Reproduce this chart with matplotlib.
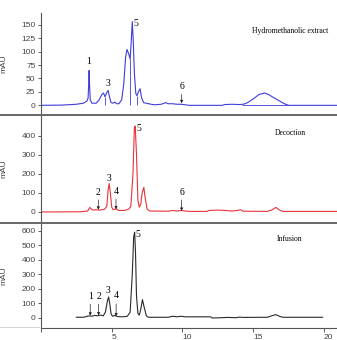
import numpy as np
import matplotlib
matplotlib.use("Agg")
import matplotlib.pyplot as plt
from matplotlib.lines import Line2D

# retention time (min) / absorbance (mAU)
hm_t = [0, 1.5, 2.5, 3.0, 3.25, 3.33, 3.37, 3.40, 3.43, 3.48, 3.6, 3.9, 4.1, 4.3, 4.42, 4.52,
        4.62, 4.74, 4.85, 4.95, 5.1, 5.2, 5.35, 5.5, 5.7, 5.85, 5.98, 6.08, 6.2, 6.3, 6.38,
        6.45, 6.52, 6.6, 6.7, 6.78, 6.9, 7.0, 7.1, 7.25, 7.6, 8.0, 8.5, 8.8, 9.0, 9.3, 9.6,
        9.9, 10.2, 10.5, 12.8, 13.0, 13.5, 14.0, 14.3, 14.6, 15.0, 15.4, 15.8, 16.1, 16.4,
        16.8, 17.2, 17.5, 20.9]
hm_y = [0, 0.5, 2, 4, 8, 14, 40, 65, 40, 10, 4, 4, 10, 20, 23, 16,
        22, 28, 15, 5, 4, 6, 3, 3, 10, 40, 90, 104, 96, 86, 120,
        156, 120, 60, 22, 18, 26, 31, 15, 5, 3, 1, 2, 5, 3, 3, 2,
        2, 1, 0, 0, 1.5, 2, 1.5, 2, 5, 12, 20, 23, 20, 15,
        9, 3, 0, 0]
hm_drop_t = [4.55, 6.30, 6.78]
hm_drop_y = [16, 86, 18]

dec_t = [0, 2.8, 3.3, 3.45, 3.55, 3.7, 3.9, 4.1, 4.3, 4.5, 4.65, 4.75, 4.82, 4.9, 5.0, 5.1,
         5.3, 5.5, 5.8, 6.0, 6.2, 6.35, 6.5, 6.6, 6.66, 6.75, 6.85, 6.95, 7.05, 7.15, 7.27,
         7.35, 7.5, 7.7, 9.0, 9.3, 9.6, 9.9, 10.2, 10.5, 11.7, 11.9, 12.5, 13.0, 13.5, 13.9,
         14.1, 14.3, 16.0, 16.3, 16.6, 16.9, 17.1, 20.9]
dec_y = [0, 1, 5, 24, 15, 10, 12, 10, 12, 15, 30, 120, 150, 100, 25, 12,
         16, 8, 8, 10, 15, 30, 200, 440, 452, 300, 60, 25, 40, 100, 130,
         80, 15, 5, 4, 8, 5, 8, 5, 3, 3, 8, 10, 8, 5, 8,
         12, 4, 3, 10, 24, 8, 3, 3]

inf_t = [2.5, 3.0, 3.2, 3.4, 3.6, 3.8, 4.0, 4.2, 4.4, 4.55, 4.7, 4.78, 4.86, 4.95, 5.05,
         5.2, 5.4, 5.8, 6.1, 6.3, 6.45, 6.55, 6.62, 6.68, 6.75, 6.85, 6.95, 7.05, 7.17, 7.3,
         7.45, 7.6, 9.0, 9.3, 9.6, 9.9, 10.2, 12.0, 12.1, 12.8, 13.2, 13.8, 14.0, 14.3, 16.0,
         16.3, 16.6, 16.9, 17.1, 19.9]
inf_y = [5, 5, 10, 15, 12, 18, 15, 20, 15, 40, 120, 145, 100, 30, 12,
         18, 10, 8, 12, 40, 300, 560, 592, 450, 150, 30, 20, 60, 127, 70,
         15, 5, 5, 12, 8, 12, 8, 8, 0, 2, 4, 2, 6, 4, 5,
         15, 23, 10, 5, 5]

# peak labels: (text, time, text level, arrow tip level or None)
hm_labels = [("1", 3.35, 81, None), ("3", 4.75, 41, None), ("6", 9.94, 35, 4)]
dec_labels = [("2", 4.05, 105, 12), ("3", 4.83, 178, None), ("4", 5.3, 110, 14), ("6", 9.94, 105, 6)]
inf_labels = [("1", 3.48, 150, 16), ("2", 4.07, 150, 18), ("3", 4.73, 187, None), ("4", 5.31, 152, 12)]

plt.rcParams['font.family'] = ['Liberation Sans', 'DejaVu Sans']
serif = 'Liberation Serif'

fig = plt.figure(figsize=(3.37, 3.40), dpi=100)
W, H = 337.0, 340.0
x0 = 41 / W
w = (337 - 41) / W


def make_ax(top, bottom):
    return fig.add_axes([x0, 1 - bottom / H, w, (bottom - top) / H])


ax1 = make_ax(13, 115)
ax2 = make_ax(115, 223)
ax3 = make_ax(223, 328)

for ax in (ax1, ax2, ax3):
    ax.set_xlim(0, 20.92)
    ax.patch.set_alpha(0)
    for s in ("top", "right"):
        ax.spines[s].set_visible(False)
    ax.spines["left"].set_color("#555555")
    ax.spines["left"].set_linewidth(0.8)
    ax.tick_params(axis="y", labelsize=6, length=2.5, width=0.6, pad=1.5,
                   colors="#444444")
    ax.set_ylabel("mAU", fontsize=6, color="#444444", labelpad=6)

for ax in (ax1, ax2):
    ax.spines["bottom"].set_visible(False)
    ax.set_xticks([])

ax1.set_ylim(-18, 172)
ax1.set_yticks([0, 25, 50, 75, 100, 125, 150])
ax2.set_ylim(-58, 510)
ax2.set_yticks([0, 100, 200, 300, 400])
ax3.set_ylim(-69, 655)
ax3.set_yticks([0, 100, 200, 300, 400, 500, 600])

ax3.spines["bottom"].set_color("#555555")
ax3.spines["bottom"].set_linewidth(0.8)
ax3.set_xticks([0, 5, 10, 15, 20])
ax3.set_xticklabels(["", "5", "10", "15", "20"])
ax3.tick_params(axis="x", labelsize=6, length=3, width=0.6, pad=1, colors="#444444")
for lab in ax3.get_xticklabels():
    lab.set_horizontalalignment("left")

for ax in (ax1, ax2, ax3):
    ax.yaxis.set_label_coords(-0.115, 0.5)

blue = "#3d3ddb"
red = "#e8323a"
black = "#2a2a2a"

ax1.plot(hm_t, hm_y, color=blue, lw=0.8)
ax1.vlines(hm_drop_t, 0, hm_drop_y, color=blue, lw=0.6)
ax1.hlines(0, 14.2, 17.5, color=blue, lw=0.6)
ax2.plot(dec_t, dec_y, color=red, lw=0.8)
ax3.plot(inf_t, inf_y, color=black, lw=0.8)


def put_labels(ax, labels):
    for txt, t, ty, tip in labels:
        if tip is None:
            ax.text(t, ty, txt, ha="center", va="center", fontsize=7, family=serif)
        else:
            ax.annotate(txt, xy=(t, tip), xytext=(t, ty), ha="center", va="center",
                        fontsize=7, family=serif,
                        arrowprops=dict(arrowstyle="-|>", lw=0.5, color="#222222",
                                        mutation_scale=4, shrinkA=0.5, shrinkB=0))


put_labels(ax1, hm_labels)
put_labels(ax2, dec_labels)
put_labels(ax3, inf_labels)

ax1.text(6.55, 152, "5", ha="left", va="center", fontsize=7, family=serif)
ax2.text(6.75, 437, "5", ha="left", va="center", fontsize=7, family=serif)
ax3.text(6.7, 573, "5", ha="left", va="center", fontsize=7, family=serif)

ax1.text(17.6, 139, "Hydromethanolic extract", ha="center", va="center", fontsize=5.5, family=serif)
ax2.text(17.6, 416, "Decoction", ha="center", va="center", fontsize=5.5, family=serif)
ax3.text(17.6, 545, "Infusion", ha="center", va="center", fontsize=5.5, family=serif)

# panel separators
for py in (115, 223):
    fig.add_artist(Line2D([0, 1], [1 - py / H, 1 - py / H], transform=fig.transFigure,
                          color="#666666", lw=1.4))
fig.add_artist(Line2D([0, 0.115], [1 - 327 / H, 1 - 327 / H], transform=fig.transFigure,
                      color="#cccccc", lw=0.6))

fig.savefig("out.png", dpi=100)
